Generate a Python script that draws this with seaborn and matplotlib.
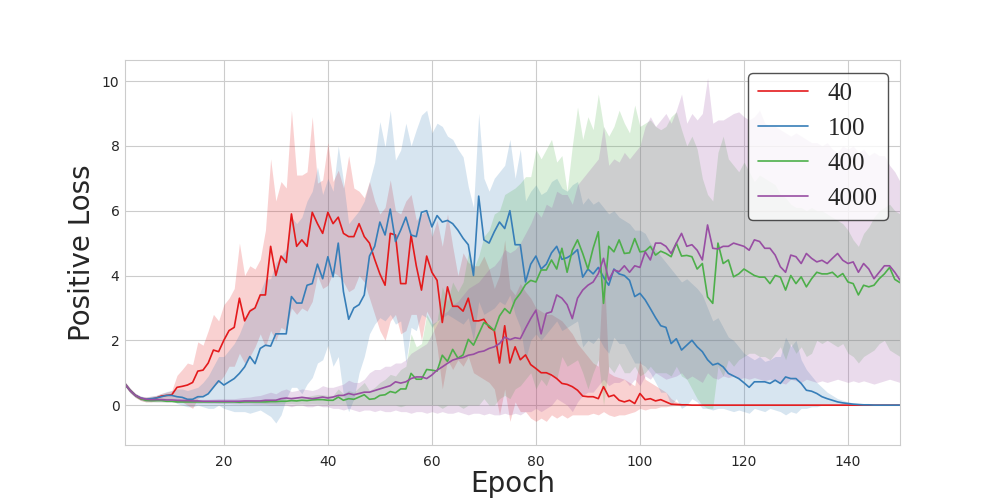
import pandas as pd
import matplotlib
matplotlib.use("Agg")
import matplotlib.pyplot as plt
import seaborn as sns

# Positive loss per epoch for each batch size: mean line plus band bounds
epochs = list(range(1, 151))
batch_sizes = ["40", "100", "400", "4000"]
colors = ["#e41a1c", "#377eb8", "#4daf4a", "#984ea3"]

red_mean = [0.65, 0.45, 0.30, 0.20, 0.17, 0.18, 0.22, 0.28, 0.30, 0.32,
            0.55, 0.58, 0.62, 0.70, 1.05, 1.08, 1.30, 1.70, 1.65, 2.00,
            2.30, 2.40, 3.30, 2.60, 2.90, 3.00, 3.40, 3.40, 4.90, 4.00,
            4.60, 4.40, 5.90, 4.90, 5.10, 4.90, 5.95, 5.60, 5.30, 5.95,
            5.60, 5.80, 5.30, 5.20, 5.20, 5.60, 5.20, 5.00, 4.50, 4.05,
            3.70, 5.30, 5.25, 3.75, 3.75, 5.25, 4.30, 3.55, 4.60, 4.10,
            3.85, 2.55, 3.65, 3.05, 3.05, 2.90, 3.30, 2.60, 2.60, 2.65,
            2.40, 2.30, 1.30, 2.45, 1.30, 1.80, 1.40, 1.55, 1.25, 1.13,
            1.00, 1.00, 0.93, 0.82, 0.67, 0.64, 0.57, 0.46, 0.28, 0.26,
            0.26, 0.20, 0.57, 0.26, 0.31, 0.15, 0.10, 0.15, 0.05, 0.36,
            0.17, 0.20, 0.13, 0.17, 0.10, 0.03, 0.02, 0.01, 0.01, 0.00,
            0, 0, 0, 0, 0, 0, 0, 0, 0, 0,
            0, 0, 0, 0, 0, 0, 0, 0, 0, 0,
            0, 0, 0, 0, 0, 0, 0, 0, 0, 0,
            0, 0, 0, 0, 0, 0, 0, 0, 0, 0]
red_lo = [0.58, 0.38, 0.24, 0.14, 0.10, 0.10, 0.14, 0.20, 0.20, 0.20,
          0.20, 0.10, 0.00, -0.10, 0.20, 0.30, 0.40, 0.60, 0.70, 0.90,
          1.20, 1.20, 1.60, 1.30, 1.50, 1.80, 2.20, 1.80, 2.30, 2.00,
          2.40, 2.30, 3.00, 2.80, 3.00, 2.90, 3.20, 4.00, 3.60, 3.70,
          4.10, 4.00, 3.80, 3.50, 3.60, 4.00, 3.80, 3.30, 2.80, 2.30,
          2.00, 2.60, 2.80, 2.20, 2.30, 2.80, 2.80, 2.00, 2.90, 2.60,
          1.80, 0.50, 1.40, 1.10, 1.40, 1.20, 1.50, 1.00, 0.90, 0.80,
          0.70, 0.50, -0.30, 0.50, -0.50, 0.10, -0.20, -0.20, -0.40, -0.50,
          -0.40, -0.50, -0.30, -0.40, -0.30, -0.40, -0.30, -0.30, -0.30, -0.30,
          -0.25, -0.30, -0.20, -0.30, -0.35, -0.30, -0.30, -0.25, -0.20, -0.10,
          -0.15, -0.10, -0.10, -0.05, -0.05, -0.02, -0.01, 0, 0, 0,
          0, 0, 0, 0, 0, 0, 0, 0, 0, 0,
          0, 0, 0, 0, 0, 0, 0, 0, 0, 0,
          0, 0, 0, 0, 0, 0, 0, 0, 0, 0,
          0, 0, 0, 0, 0, 0, 0, 0, 0, 0]
red_hi = [0.72, 0.52, 0.36, 0.27, 0.25, 0.27, 0.30, 0.36, 0.40, 0.45,
          0.92, 1.10, 1.30, 1.25, 1.95, 1.85, 2.30, 2.80, 2.60, 3.10,
          3.30, 3.60, 5.00, 4.00, 4.30, 4.20, 4.50, 5.40, 7.60, 6.30,
          6.90, 6.70, 9.10, 7.10, 7.10, 7.20, 8.90, 6.85, 6.95, 8.10,
          6.90, 7.25, 6.70, 7.70, 6.70, 6.60, 6.40, 6.90, 6.30, 5.90,
          6.10, 6.95, 6.00, 5.90, 6.30, 6.50, 5.70, 5.90, 6.00, 5.20,
          5.70, 4.90, 5.90, 4.90, 4.00, 4.70, 4.40, 4.30, 4.30, 4.60,
          4.20, 3.60, 4.00, 5.10, 3.60, 3.40, 3.75, 3.50, 3.30, 3.00,
          2.90, 2.80, 2.80, 2.70, 2.60, 2.40, 2.20, 1.90, 1.70, 1.50,
          1.30, 1.20, 4.60, 1.00, 0.90, 0.85, 0.80, 0.70, 0.60, 1.40,
          0.80, 0.70, 0.60, 0.50, 0.40, 0.20, 0.10, 0.05, 0.03, 0.02,
          0, 0, 0, 0, 0, 0, 0, 0, 0, 0,
          0, 0, 0, 0, 0, 0, 0, 0, 0, 0,
          0, 0, 0, 0, 0, 0, 0, 0, 0, 0,
          0, 0, 0, 0, 0, 0, 0, 0, 0, 0]

blue_mean = [0.65, 0.45, 0.30, 0.22, 0.18, 0.20, 0.22, 0.26, 0.30, 0.30,
             0.26, 0.24, 0.18, 0.18, 0.26, 0.26, 0.35, 0.55, 0.75, 0.62,
             0.72, 0.82, 0.98, 1.18, 1.50, 1.28, 1.75, 1.85, 1.82, 2.20,
             2.20, 2.20, 3.35, 3.15, 3.15, 3.70, 3.75, 4.35, 3.90, 4.58,
             3.96, 5.00, 3.50, 2.65, 3.00, 3.10, 3.40, 4.60, 4.90, 5.65,
             5.25, 6.05, 5.05, 5.40, 5.80, 5.25, 5.20, 5.95, 6.00, 5.50,
             5.85, 5.65, 5.70, 5.60, 5.40, 5.15, 4.95, 4.00, 6.45, 5.10,
             5.00, 5.35, 5.65, 5.45, 6.00, 4.95, 4.95, 3.80, 4.35, 4.60,
             4.20, 4.35, 4.70, 4.90, 4.50, 4.55, 4.65, 4.80, 3.95, 4.20,
             4.05, 4.25, 3.95, 3.70, 4.20, 4.05, 4.00, 3.85, 3.35, 3.45,
             3.25, 2.98, 2.70, 2.45, 2.40, 1.90, 2.05, 1.70, 1.85, 2.00,
             1.80, 1.65, 1.40, 1.24, 1.29, 1.18, 0.98, 0.90, 0.82, 0.69,
             0.55, 0.72, 0.72, 0.72, 0.67, 0.77, 0.67, 0.87, 0.82, 0.82,
             0.67, 0.46, 0.43, 0.36, 0.26, 0.20, 0.15, 0.10, 0.07, 0.05,
             0.03, 0.02, 0.01, 0.01, 0.00, 0.00, 0.00, 0.00, 0.00, 0.00]
blue_lo = [0.58, 0.38, 0.24, 0.16, 0.12, 0.12, 0.14, 0.16, 0.18, 0.15,
           0.05, 0.00, -0.05, -0.05, 0.00, -0.05, -0.10, -0.10, 0.00, -0.10,
           -0.15, -0.20, -0.20, -0.20, -0.25, -0.20, -0.15, -0.25, -0.35, -0.55,
           -0.30, 0.20, 0.55, 0.55, 0.35, 0.65, 0.85, 1.30, 1.40, 1.85,
           1.20, 1.50, 0.30, -0.20, 0.20, 1.00, 1.50, 2.20, 2.50, 2.70,
           2.60, 2.80, 2.50, 2.60, 1.30, 2.40, 2.30, 2.80, 2.70, 2.40,
           2.60, 2.70, 2.80, 2.70, 2.60, 2.50, 2.70, 2.00, 3.20, 2.80,
           2.90, 3.00, 3.20, 3.10, 3.40, 2.80, 2.40, 1.40, 2.00, 2.20,
           2.00, 2.20, 2.40, 2.60, 2.30, 2.40, 2.50, 2.60, 1.80, 2.00,
           1.90, 2.10, 1.80, 1.60, 2.10, 1.90, 1.90, 1.60, 1.30, 1.30,
           1.20, 1.00, 0.70, 0.40, 0.40, 0.00, 0.20, -0.10, 0.00, 0.20,
           0.10, -0.10, -0.10, -0.15, -0.10, -0.10, -0.15, -0.20, -0.15, -0.20,
           -0.25, -0.10, -0.15, -0.20, -0.10, -0.15, -0.20, -0.30, -0.20, -0.25,
           -0.10, -0.10, -0.05, -0.05, 0.00, 0.00, 0.00, 0.00, 0.00, 0.00,
           0.00, 0.00, 0.00, 0.00, 0.00, 0.00, 0.00, 0.00, 0.00, 0.00]
blue_hi = [0.72, 0.52, 0.36, 0.28, 0.25, 0.28, 0.30, 0.36, 0.42, 0.45,
           0.50, 0.50, 0.45, 0.50, 0.55, 0.70, 0.90, 1.20, 1.50, 1.50,
           1.70, 1.90, 2.20, 2.60, 3.00, 3.00, 3.50, 3.90, 3.90, 4.40,
           4.60, 4.80, 5.80, 5.60, 5.80, 6.30, 6.60, 7.35, 6.50, 7.00,
           6.60, 8.00, 6.90, 5.60, 5.80, 6.00, 6.30, 6.90, 7.50, 8.75,
           7.97, 9.10, 7.56, 7.87, 8.70, 8.00, 8.50, 8.95, 9.10, 8.40,
           8.70, 8.60, 8.30, 8.20, 7.90, 7.66, 6.74, 6.10, 9.00, 7.00,
           6.60, 7.00, 7.20, 7.40, 8.20, 7.00, 7.90, 6.30, 6.60, 6.80,
           6.50, 6.60, 6.90, 7.00, 6.70, 6.60, 6.80, 6.90, 6.20, 6.40,
           6.20, 6.30, 6.10, 5.90, 6.00, 5.80, 5.70, 5.60, 5.40, 5.40,
           5.30, 5.00, 4.80, 4.60, 4.40, 4.20, 4.00, 3.80, 3.90, 3.75,
           3.60, 3.40, 3.00, 2.60, 2.70, 2.40, 2.10, 2.00, 1.80, 1.60,
           1.50, 1.40, 1.50, 1.35, 1.40, 1.50, 1.50, 2.10, 1.80, 2.00,
           1.40, 1.10, 0.90, 0.70, 0.55, 0.40, 0.30, 0.20, 0.15, 0.10,
           0.07, 0.05, 0.03, 0.02, 0.01, 0.00, 0.00, 0.00, 0.00, 0.00]

green_mean = [0.65, 0.45, 0.30, 0.20, 0.15, 0.14, 0.14, 0.14, 0.12, 0.12,
              0.10, 0.10, 0.10, 0.10, 0.10, 0.10, 0.10, 0.10, 0.10, 0.10,
              0.10, 0.10, 0.09, 0.10, 0.10, 0.10, 0.10, 0.10, 0.11, 0.11,
              0.12, 0.12, 0.14, 0.13, 0.15, 0.14, 0.16, 0.17, 0.17, 0.15,
              0.15, 0.25, 0.15, 0.20, 0.18, 0.25, 0.32, 0.18, 0.20, 0.30,
              0.32, 0.42, 0.38, 0.50, 0.50, 0.98, 0.80, 0.80, 1.10, 1.08,
              1.05, 1.54, 1.35, 1.72, 1.45, 1.55, 2.03, 1.85, 2.20, 2.55,
              2.45, 2.30, 2.75, 2.98, 2.83, 3.24, 3.45, 3.72, 3.85, 3.80,
              4.17, 4.17, 4.48, 4.20, 4.84, 4.10, 4.78, 5.10, 4.68, 4.20,
              4.84, 5.35, 3.14, 4.90, 4.73, 5.10, 4.68, 4.70, 5.14, 4.73,
              4.75, 4.90, 4.63, 4.75, 4.68, 4.58, 5.00, 4.60, 4.62, 4.58,
              4.20, 4.37, 3.34, 3.14, 5.00, 4.37, 4.48, 3.96, 4.05, 4.20,
              4.10, 4.00, 3.95, 3.95, 3.75, 4.00, 3.95, 3.55, 4.00, 3.75,
              3.96, 3.65, 3.90, 4.10, 4.05, 4.05, 4.10, 3.95, 4.06, 3.80,
              3.75, 3.40, 3.70, 3.65, 3.70, 3.90, 4.05, 4.25, 3.88, 3.78]
green_lo = [0.60, 0.40, 0.25, 0.15, 0.10, 0.10, 0.10, 0.10, 0.09, 0.09,
            0.08, 0.08, 0.08, 0.08, 0.07, 0.08, 0.07, 0.08, 0.07, 0.07,
            0.07, 0.07, 0.06, 0.07, 0.07, 0.06, 0.06, 0.05, 0.05, 0.04,
            0.04, 0.04, 0.05, 0.03, 0.04, 0.03, 0.04, 0.03, 0.03, 0.02,
            0.02, 0.03, 0.02, 0.00, 0.00, 0.00, 0.00, 0.00, 0.00, 0.00,
            0.00, 0.00, 0.00, -0.05, 0.00, 0.00, 0.00, 0.00, 0.00, 0.00,
            0.00, -0.10, 0.00, 0.00, 0.00, -0.10, 0.00, 0.00, 0.00, 0.20,
            0.00, 0.00, 0.20, 0.30, 0.20, 0.50, 0.60, 0.80, 1.00, 0.50,
            0.80, 0.60, 1.00, 0.80, 1.50, 1.20, 1.30, 1.40, 1.00, 0.50,
            1.00, 1.40, 0.00, 1.20, 1.00, 1.30, 1.00, 1.00, 1.20, 0.90,
            1.00, 1.20, 1.00, 1.00, 1.00, 0.90, 1.20, 0.90, 0.80, 0.50,
            0.20, 0.00, -0.10, -0.10, 1.20, 0.90, 1.40, 1.20, 1.40, 1.50,
            1.60, 1.60, 1.50, 1.50, 1.40, 1.60, 1.80, 1.40, 1.90, 1.60,
            1.80, 1.50, 1.60, 2.00, 1.90, 2.00, 1.90, 1.80, 1.90, 1.60,
            1.50, 1.30, 1.50, 1.60, 1.70, 1.90, 2.00, 1.70, 1.60, 1.50]
green_hi = [0.70, 0.50, 0.35, 0.25, 0.20, 0.18, 0.17, 0.17, 0.15, 0.15,
            0.13, 0.13, 0.14, 0.13, 0.13, 0.14, 0.13, 0.14, 0.13, 0.14,
            0.14, 0.13, 0.13, 0.14, 0.14, 0.15, 0.15, 0.16, 0.18, 0.20,
            0.22, 0.20, 0.25, 0.24, 0.28, 0.26, 0.30, 0.33, 0.32, 0.30,
            0.30, 0.50, 0.35, 0.45, 0.40, 0.55, 0.70, 0.45, 0.55, 0.70,
            0.80, 0.95, 0.90, 1.10, 1.20, 2.20, 1.80, 1.90, 2.80, 2.50,
            2.60, 3.65, 3.20, 3.80, 3.50, 3.80, 4.70, 4.20, 4.60, 5.20,
            5.40, 5.90, 6.00, 6.50, 6.60, 6.70, 6.85, 7.05, 7.05, 7.90,
            7.60, 7.90, 8.20, 7.50, 7.70, 6.60, 8.00, 9.20, 8.20, 8.90,
            8.50, 9.60, 8.60, 8.30, 8.60, 9.10, 8.70, 8.40, 9.26, 8.60,
            8.70, 8.80, 8.60, 8.50, 8.60, 8.90, 9.05, 8.50, 8.00, 8.30,
            7.90, 7.00, 6.50, 6.30, 7.80, 8.30, 7.60, 7.40, 7.20, 7.50,
            7.20, 6.90, 7.10, 7.00, 6.90, 6.80, 6.50, 6.40, 6.20, 6.10,
            6.10, 6.00, 6.10, 6.00, 6.00, 5.90, 5.80, 5.70, 5.60, 5.40,
            5.10, 4.90, 5.30, 5.50, 5.80, 6.00, 6.10, 6.20, 6.00, 5.90]

purple_mean = [0.65, 0.45, 0.30, 0.22, 0.18, 0.17, 0.17, 0.17, 0.16, 0.16,
               0.15, 0.14, 0.14, 0.13, 0.13, 0.12, 0.12, 0.12, 0.12, 0.12,
               0.12, 0.12, 0.12, 0.13, 0.13, 0.13, 0.13, 0.15, 0.15, 0.15,
               0.20, 0.22, 0.20, 0.22, 0.24, 0.22, 0.20, 0.22, 0.25, 0.22,
               0.25, 0.30, 0.30, 0.36, 0.32, 0.36, 0.40, 0.40, 0.45, 0.50,
               0.55, 0.60, 0.72, 0.68, 0.72, 0.82, 0.87, 0.87, 0.82, 0.93,
               1.08, 1.18, 1.29, 1.39, 1.44, 1.47, 1.54, 1.57, 1.64, 1.67,
               1.75, 1.80, 1.90, 2.10, 2.02, 2.08, 2.05, 2.37, 2.67, 2.93,
               2.20, 2.83, 2.88, 3.40, 3.30, 3.10, 2.67, 3.30, 3.55, 3.70,
               3.80, 4.06, 4.53, 3.86, 4.17, 4.12, 4.30, 4.10, 4.30, 4.25,
               4.73, 4.48, 5.00, 5.00, 4.90, 4.68, 5.00, 5.30, 4.90, 4.95,
               4.78, 4.48, 5.56, 4.84, 4.82, 4.90, 4.90, 5.00, 4.95, 4.90,
               4.78, 5.10, 5.05, 4.84, 4.84, 4.63, 4.27, 4.10, 4.63, 4.58,
               4.37, 4.68, 4.53, 4.42, 4.47, 4.37, 4.53, 4.68, 4.47, 4.37,
               4.42, 4.10, 4.37, 4.20, 3.90, 4.10, 4.30, 4.30, 4.10, 3.86]
purple_lo = [0.58, 0.38, 0.24, 0.16, 0.12, 0.11, 0.10, 0.10, 0.10, 0.10,
             0.08, 0.08, 0.07, 0.07, 0.06, 0.06, 0.06, 0.05, 0.05, 0.05,
             0.05, 0.04, 0.04, 0.03, 0.03, 0.02, 0.02, 0.02, 0.00, 0.00,
             0.00, 0.00, -0.05, 0.00, 0.00, -0.05, -0.05, 0.00, -0.05, -0.05,
             -0.10, -0.10, -0.15, -0.10, -0.15, -0.20, -0.15, -0.15, -0.20, -0.15,
             -0.20, -0.20, -0.15, -0.20, -0.20, -0.25, -0.20, -0.20, -0.25, -0.20,
             -0.25, -0.20, -0.25, -0.25, -0.20, -0.25, -0.30, -0.25, -0.25, -0.30,
             -0.25, -0.30, -0.30, -0.25, -0.30, -0.25, -0.30, -0.20, -0.20, -0.10,
             -0.20, -0.10, 0.00, 0.20, 0.10, 0.00, -0.20, 0.10, 0.30, 0.40,
             0.40, 0.60, 0.80, 0.60, 0.70, 0.70, 0.80, 0.60, 0.80, 0.60,
             0.90, 0.80, 1.00, 0.90, 0.80, 0.85, 0.90, 1.00, 0.80, 0.90,
             0.80, 0.70, 1.00, 0.85, 0.80, 0.90, 0.85, 0.90, 0.80, 0.85,
             0.80, 0.85, 0.80, 0.75, 0.80, 0.75, 0.70, 0.65, 0.80, 0.75,
             0.70, 0.80, 0.75, 0.70, 0.75, 0.70, 0.75, 0.80, 0.75, 0.70,
             0.75, 0.70, 0.75, 0.70, 0.65, 0.70, 0.75, 0.80, 0.75, 0.70]
purple_hi = [0.72, 0.52, 0.36, 0.28, 0.24, 0.23, 0.22, 0.22, 0.21, 0.21,
             0.20, 0.20, 0.19, 0.19, 0.18, 0.18, 0.18, 0.19, 0.20, 0.20,
             0.20, 0.20, 0.22, 0.24, 0.25, 0.28, 0.30, 0.35, 0.40, 0.35,
             0.45, 0.50, 0.42, 0.45, 0.50, 0.48, 0.45, 0.50, 0.60, 0.55,
             0.55, 0.60, 0.65, 0.77, 0.70, 0.70, 0.80, 1.00, 1.10, 1.10,
             1.20, 1.20, 1.30, 1.30, 1.40, 1.60, 1.70, 1.80, 1.90, 2.20,
             2.50, 2.80, 2.90, 3.10, 3.20, 3.40, 3.60, 3.70, 3.80, 4.00,
             4.20, 4.30, 4.50, 4.80, 4.70, 4.80, 5.00, 5.30, 5.60, 6.00,
             5.80, 6.20, 6.10, 6.60, 6.50, 6.50, 6.20, 6.80, 7.00, 7.20,
             7.40, 7.60, 8.60, 7.40, 7.60, 7.50, 7.80, 7.60, 7.80, 8.00,
             8.60, 8.90, 8.60, 8.80, 9.00, 8.70, 9.10, 9.60, 8.70, 9.00,
             8.80, 9.00, 10.10, 8.70, 8.80, 8.80, 8.90, 9.00, 9.05, 8.90,
             8.80, 8.90, 9.10, 8.70, 8.60, 8.60, 8.50, 8.40, 8.30, 8.40,
             8.30, 8.20, 8.10, 8.10, 8.00, 8.10, 7.90, 7.80, 8.00, 7.90,
             8.00, 7.80, 7.90, 7.70, 7.80, 7.70, 7.70, 7.40, 7.20, 6.90]

means = [red_mean, blue_mean, green_mean, purple_mean]
lows = [red_lo, blue_lo, green_lo, purple_lo]
highs = [red_hi, blue_hi, green_hi, purple_hi]


def build_frame():
    frames = []
    for bs, m, lo, hi in zip(batch_sizes, means, lows, highs):
        frames.append(pd.DataFrame({"epoch": epochs, "loss": m,
                                    "lo": lo, "hi": hi, "batch": bs}))
    return pd.concat(frames, ignore_index=True)


def plot_positive_loss(df):
    sns.set_style("whitegrid")
    fig, ax = plt.subplots(figsize=(10, 5), dpi=100)
    palette = dict(zip(batch_sizes, colors))

    # shaded spread for every batch size
    for bs in batch_sizes:
        sub = df[df["batch"] == bs]
        ax.fill_between(sub["epoch"], sub["lo"], sub["hi"],
                        color=palette[bs], alpha=0.2, linewidth=0)

    sns.lineplot(data=df, x="epoch", y="loss", hue="batch",
                 hue_order=batch_sizes, palette=palette,
                 linewidth=1.2, errorbar=None, ax=ax)

    ax.set_xlim(1, 150)
    ax.set_ylim(-1.23, 10.65)
    ax.set_xticks([20, 40, 60, 80, 100, 120, 140])
    ax.set_yticks([0, 2, 4, 6, 8, 10])
    ax.tick_params(labelsize=10)
    ax.tick_params(axis="y", length=0, pad=4)
    ax.set_xlabel("Epoch", fontsize=20, labelpad=1)
    ax.set_ylabel("Positive Loss", fontsize=20)

    leg = ax.legend(loc="upper right", frameon=True, fancybox=True,
                    prop={"family": ["Liberation Serif", "DejaVu Serif"], "size": 18})
    leg.get_frame().set_edgecolor("0.15")
    leg.get_frame().set_linewidth(1.0)

    fig.savefig("out.png", dpi=100)


if __name__ == "__main__":
    plot_positive_loss(build_frame())
